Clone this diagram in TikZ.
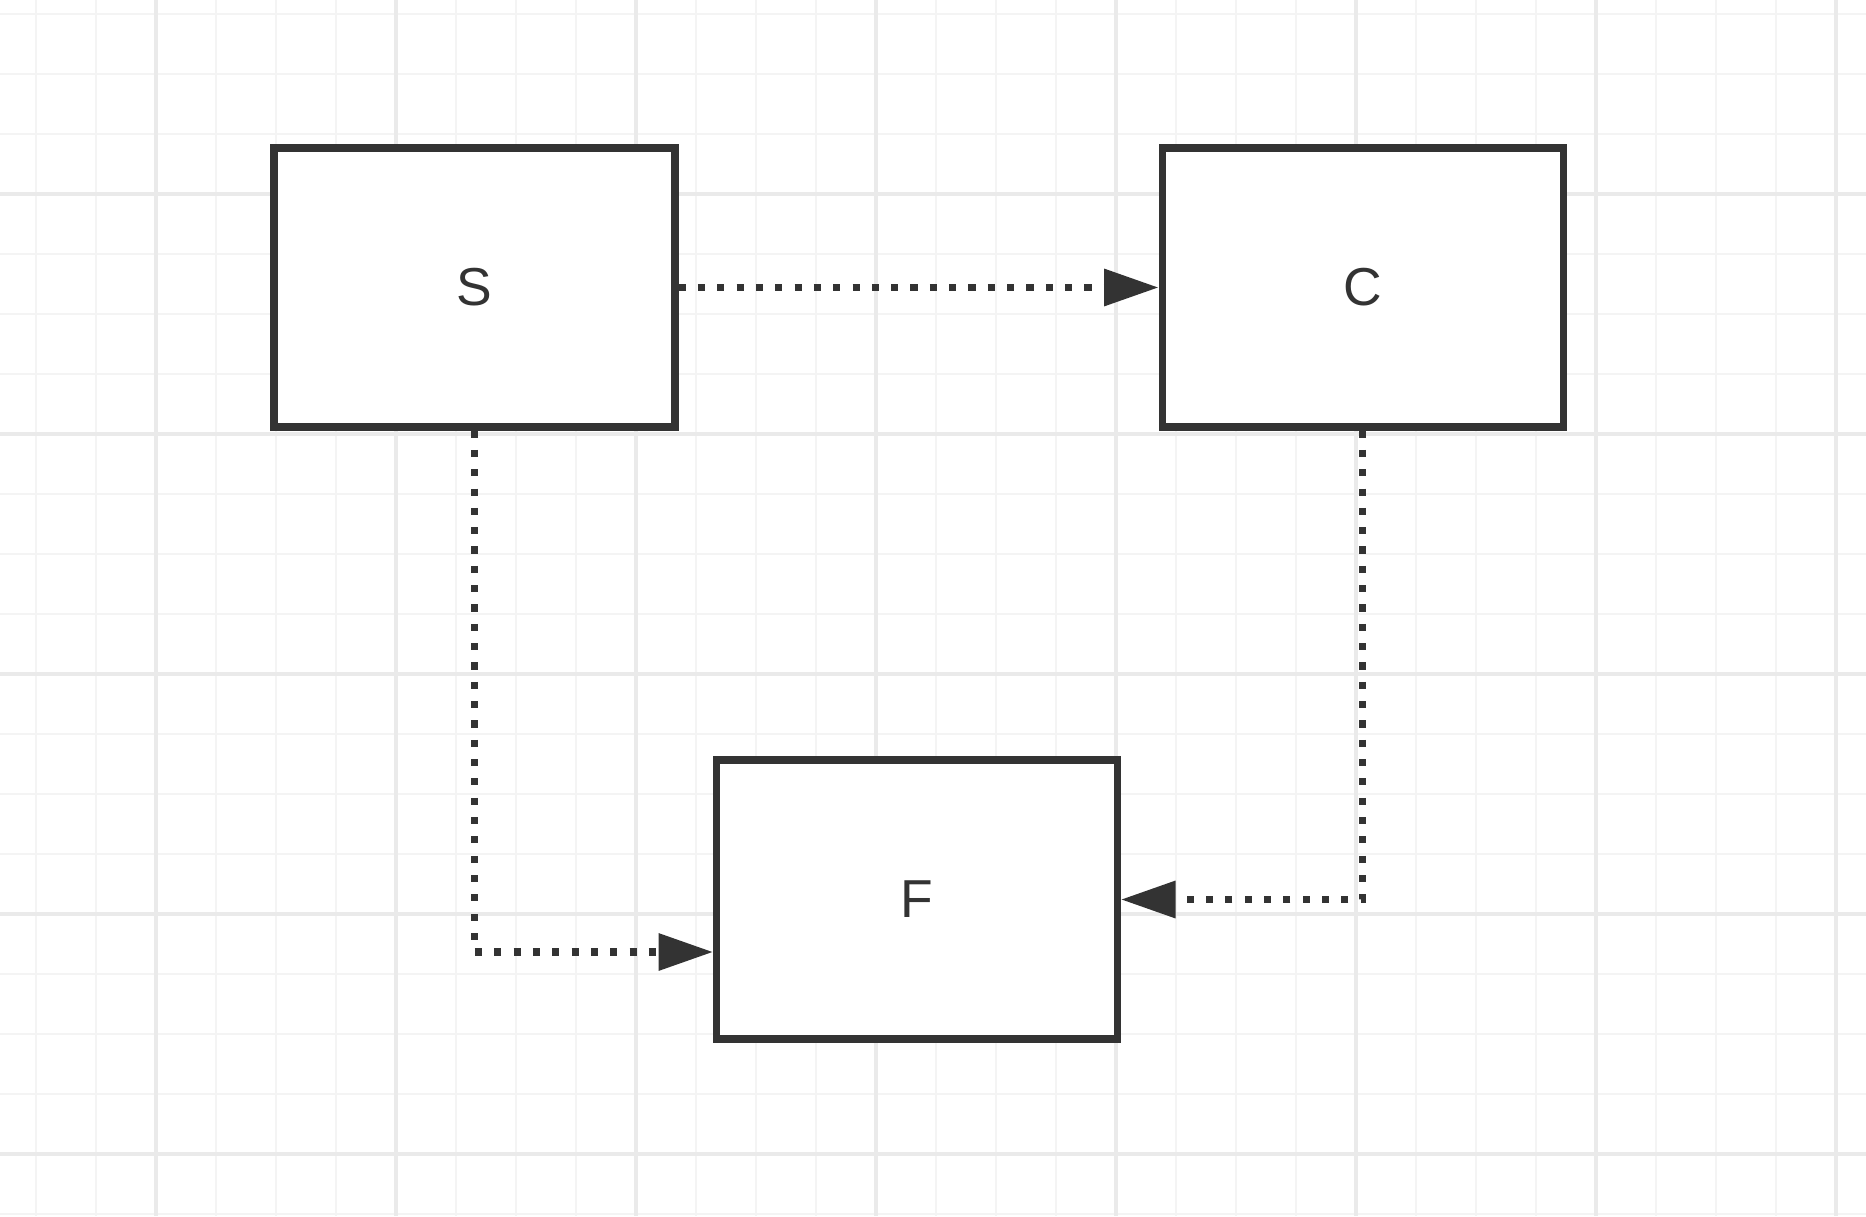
\documentclass[tikz,border=0pt]{standalone}
\usepackage{fontspec}
\setmainfont{Liberation Sans}
\usepackage{xcolor}
\usetikzlibrary{arrows.meta,positioning}

\definecolor{ink}{HTML}{333333}
\definecolor{gridminor}{HTML}{F4F4F4}
\definecolor{gridmajor}{HTML}{EAEAEA}

\begin{document}
\begin{tikzpicture}[
node distance=4.80cm,
block/.style={
    rectangle,
    draw=ink,
    line width=2pt,
    fill=white,
    minimum width=4.01cm,
    minimum height=2.79cm,
    inner sep=0pt,
    text=ink,
    font=\fontsize{15.2}{18}\selectfont
},
link/.style={-{Triangle[length=15.5pt,width=10.2pt]}, draw=ink, line width=2pt, dash pattern=on 2pt off 3.5pt}
]
\fill[white] (0,0) rectangle (18.66,-12.16);
\useasboundingbox (0,0) rectangle (18.66,-12.16);

% grid paper
\foreach \i in {0,...,30}
    \draw[gridminor, line width=0.6pt] ({0.36+0.6*\i},0) -- ({0.36+0.6*\i},-12.16);
\foreach \j in {0,...,20}
    \draw[gridminor, line width=0.6pt] (0,{-0.14-0.6*\j}) -- (18.66,{-0.14-0.6*\j});
\foreach \i in {0,...,7}
    \draw[gridmajor, line width=0.9pt] ({1.56+2.4*\i},0) -- ({1.56+2.4*\i},-12.16);
\foreach \j in {0,...,4}
    \draw[gridmajor, line width=0.9pt] (0,{-1.94-2.4*\j}) -- (18.66,{-1.94-2.4*\j});

\node[block] (s) at (4.745,-2.875) {S};
\node[block, right=of s] (c) {C};
\node[block] (f) at (9.17,-8.995) {F};

\draw[link] (s) -- (c);
\draw[link] (s) |- ([yshift=-0.525cm]f.west);
\draw[link] (c) |- (f);
\end{tikzpicture}
\end{document}
